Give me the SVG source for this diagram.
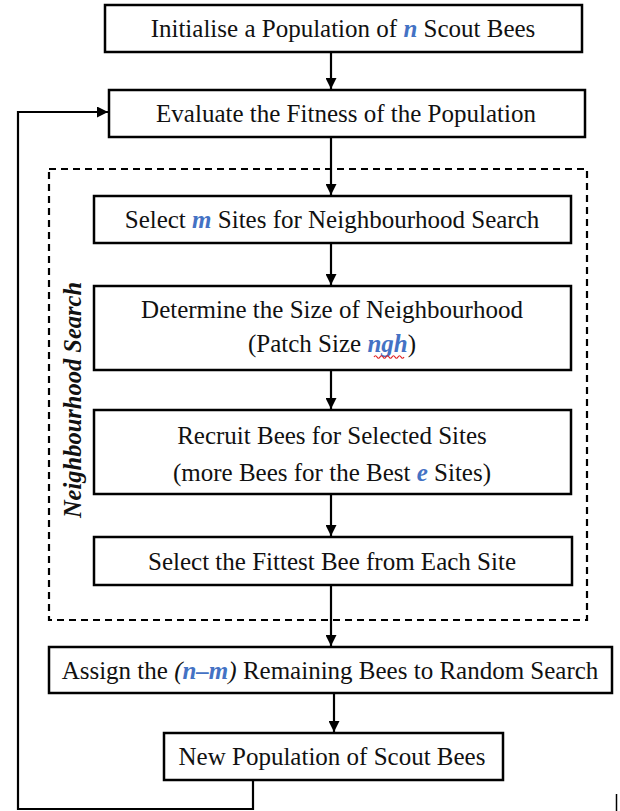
<svg xmlns="http://www.w3.org/2000/svg" width="620" height="811" viewBox="0 0 620 811">
<style>
.box{fill:#fff;stroke:#000;stroke-width:2.5}
.t{font-family:"Liberation Serif","Times New Roman",serif;font-size:25px;fill:#111;text-anchor:middle}
.v{font-weight:bold;font-style:italic;fill:#4472C4}
.ln{fill:none;stroke:#000;stroke-width:2.2}
.dash{fill:none;stroke:#000;stroke-width:2.2;stroke-dasharray:7 5}
.lbl{font-family:"Liberation Serif","Times New Roman",serif;font-size:24.5px;font-weight:bold;font-style:italic;fill:#111;text-anchor:middle}
</style>
<defs>
<marker id="ah" viewBox="0 0 10 10" refX="10" refY="5" markerWidth="5" markerHeight="5" markerUnits="strokeWidth" orient="auto">
<path d="M0,0 L10,5 L0,10 z" fill="#000"/>
</marker>
</defs>
<rect width="620" height="811" fill="#fff"/>
<g id="group-neighbourhood">
<rect class="dash" x="49" y="169" width="538" height="451"/>
<text class="lbl" transform="translate(81,400) rotate(-90)">Neighbourhood Search</text>
</g>
<g id="connectors">
<line class="ln" x1="331" y1="52" x2="331" y2="89" marker-end="url(#ah)"/>
<line class="ln" x1="331" y1="137" x2="331" y2="195" marker-end="url(#ah)"/>
<line class="ln" x1="331" y1="243" x2="331" y2="285" marker-end="url(#ah)"/>
<line class="ln" x1="331" y1="370" x2="331" y2="409" marker-end="url(#ah)"/>
<line class="ln" x1="331" y1="494" x2="331" y2="536" marker-end="url(#ah)"/>
<line class="ln" x1="331" y1="585" x2="331" y2="646" marker-end="url(#ah)"/>
<line class="ln" x1="334" y1="693" x2="334" y2="732" marker-end="url(#ah)"/>
<polyline class="ln" points="253,780 253,809 18,809 18,112 108,112" marker-end="url(#ah)"/>
<line x1="616.5" y1="794" x2="616.5" y2="811" stroke="#000" stroke-width="1.5"/>
</g>
<g id="n1">
<rect class="box" x="105" y="5" width="477" height="47"/>
<text class="t" x="343" y="37">Initialise a Population of <tspan class="v">n</tspan> Scout Bees</text>
</g>
<g id="n2">
<rect class="box" x="109" y="90" width="476" height="47"/>
<text class="t" x="346" y="122">Evaluate the Fitness of the Population</text>
</g>
<g id="n3">
<rect class="box" x="94" y="196" width="477" height="47"/>
<text class="t" x="332" y="228">Select <tspan class="v">m</tspan> Sites for Neighbourhood Search</text>
</g>
<g id="n4">
<rect class="box" x="94" y="286" width="477" height="84"/>
<text class="t" x="332" y="318">Determine the Size of Neighbourhood</text>
<text class="t" x="332" y="352">(Patch Size <tspan class="v">ngh</tspan>)</text>
<path d="M374,357 q1.5,-2.5 3,0 t3,0 t3,0 t3,0 t3,0 t3,0 t3,0 t3,0 t3,0 t3,0" fill="none" stroke="#e02020" stroke-width="1.2"/>
</g>
<g id="n5">
<rect class="box" x="94" y="410" width="477" height="84"/>
<text class="t" x="332" y="444">Recruit Bees for Selected Sites</text>
<text class="t" x="332" y="481">(more Bees for the Best <tspan class="v">e</tspan> Sites)</text>
</g>
<g id="n6">
<rect class="box" x="94" y="537" width="478" height="48"/>
<text class="t" x="332" y="570">Select the Fittest Bee from Each Site</text>
</g>
<g id="n7">
<rect class="box" x="49" y="647" width="563" height="46"/>
<text class="t" x="330" y="679">Assign the <tspan font-style="italic">(</tspan><tspan class="v">n–m</tspan><tspan font-style="italic">)</tspan> Remaining Bees to Random Search</text>
</g>
<g id="n8">
<rect class="box" x="164" y="733" width="339" height="47"/>
<text class="t" x="332" y="765">New Population of Scout Bees</text>
</g>
</svg>
